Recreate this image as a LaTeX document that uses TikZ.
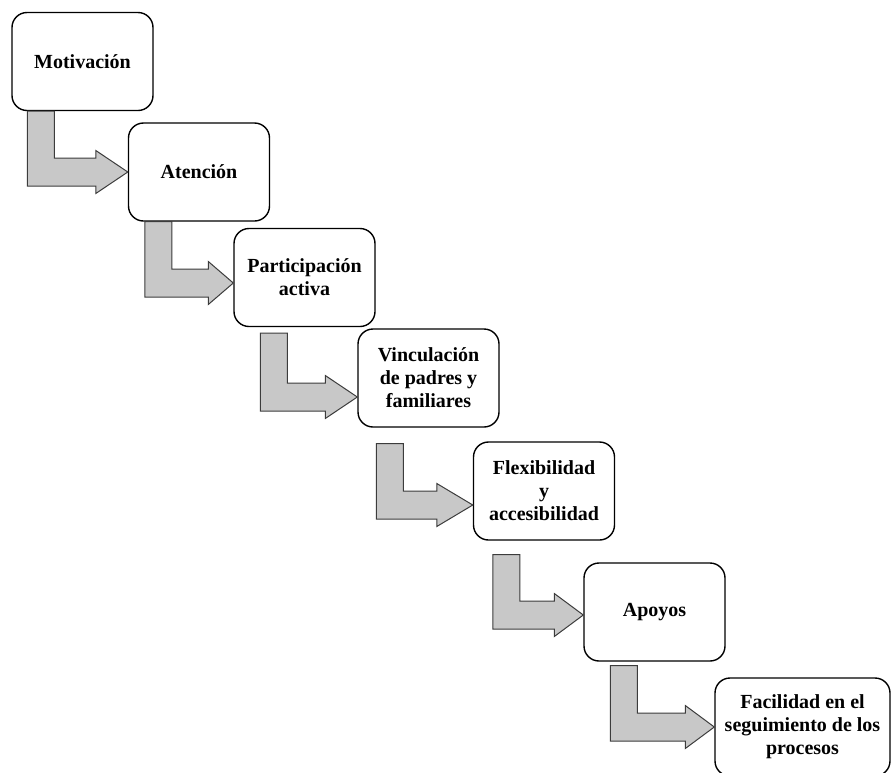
\documentclass[tikz,border=0pt]{standalone}
\usepackage{fontspec}
\setmainfont{Liberation Serif}
\usetikzlibrary{calc}
\definecolor{arrowfill}{RGB}{200,200,200}
\definecolor{arrowline}{RGB}{60,60,60}
\tikzstyle{stage}=[draw=black,line width=1.4pt,rounded corners=15pt,fill=white,inner sep=0pt,
	minimum width=141pt,minimum height=98pt,align=center,
	font=\fontsize{20}{23}\selectfont\bfseries]
\tikzstyle{bent}=[fill=arrowfill,draw=arrowline,line width=1pt,line join=miter]
% source, target, shaft shift, gap, tip drop, head length
\newcommand{\stepto}[6]{%
\draw[bent] let \p1=(#1.south west), \p2=(#2.west) in
	(\x1+#3pt,\y1-#4pt) -- ++(27pt,0) |- (\x2-#6pt,\y2-#5pt+14pt) -- ++(0,7.5pt)
	-- (\x2,\y2-#5pt) -- ++(-#6pt,-21.5pt) -- ++(0,7.5pt)
	-- (\x1+#3pt,\y2-#5pt-14pt) -- cycle;}

\begin{document}
\begin{tikzpicture}[x=1pt,y=-1pt]
\clip (0,0) rectangle (892,772);
\node[stage] (motiv) at (82.5,61.5) {Motivación};
\node[stage] (atenc) at (199,172) {Atención};
\node[stage] (partic) at (304.5,277.5) {Participación\\activa};
\node[stage] (vincul) at (428.5,378) {Vinculación\\de padres y\\familiares};
\node[stage] (flexib) at (544,491) {Flexibilidad\\y\\accesibilidad};
\node[stage] (apoyos) at (654.5,612) {Apoyos};
\node[stage,minimum width=175pt] (facil) at (802.5,727) {Facilidad en el\\seguimiento de los\\procesos};

\stepto{motiv}{atenc}{16}{0}{0}{32}
\stepto{atenc}{partic}{17}{0}{5.5}{25}
\stepto{partic}{vincul}{27}{6}{19}{32}
\stepto{vincul}{flexib}{19}{16}{14}{36}
\stepto{flexib}{apoyos}{20}{14}{3}{29}
\stepto{apoyos}{facil}{27}{4}{0}{29}
\end{tikzpicture}
\end{document}
